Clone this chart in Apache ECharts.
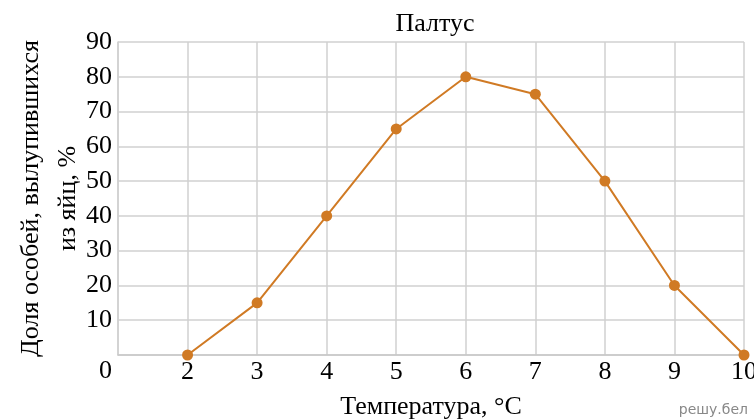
<!DOCTYPE html>
<html><head><meta charset="utf-8">
<script src="https://cdn.jsdelivr.net/npm/echarts@6/dist/echarts.min.js"></script>
<style>html,body{margin:0;padding:0;background:#fff}#c{width:754px;height:419px}</style>
</head><body><div id="c"></div>
<script>
const temps = [2, 3, 4, 5, 6, 7, 8, 9, 10];
const hatched = [0, 15, 40, 65, 80, 75, 50, 20, 0];
const title = 'Палтус';
const xName = 'Температура, °C';
const yName = 'Доля особей, вылупившихся\nиз яйц, %';
const FONT = '"Liberation Serif", "Times New Roman", serif';
const FS = 26;
const chart = echarts.init(document.getElementById('c'));
chart.setOption({
  animation: false,
  title: {text: title, left: 430, top: 6, textAlign: 'center',
    textStyle: {fontFamily: FONT, fontSize: 26, fontWeight: 'normal', color: '#000'}},
  grid: {left: 118, right: 10, top: 42, bottom: 64, containLabel: false, outerBoundsMode: 'none'},
  xAxis: {type: 'value', min: 1, max: 10, interval: 1,
    name: xName, nameLocation: 'middle', nameGap: 39, nameMoveOverlap: false,
    nameTextStyle: {fontFamily: FONT, fontSize: 26, color: '#000'},
    axisLine: {show: true, lineStyle: {color: '#c8c8c8', width: 1.5}},
    axisTick: {show: false},
    axisLabel: {fontFamily: FONT, fontSize: FS, color: '#000', margin: 4,
      formatter: v => v === 1 ? '' : String(v)},
    splitLine: {show: true, lineStyle: {color: '#d0d0d0', width: 1.5}}},
  yAxis: {type: 'value', min: 0, max: 90, interval: 10,
    name: yName, nameLocation: 'middle', nameRotate: 90, nameGap: 31, nameMoveOverlap: false,
    nameTextStyle: {fontFamily: FONT, fontSize: 26, color: '#000', lineHeight: 37, align: 'center'},
    axisLine: {show: true, lineStyle: {color: '#d0d0d0', width: 1.5}},
    axisTick: {show: false},
    axisLabel: {fontFamily: FONT, fontSize: FS, color: '#000', margin: 6,
      formatter: v => v === 0 ? '' : String(v)},
    splitLine: {show: true, lineStyle: {color: '#d0d0d0', width: 1.5}}},
  series: [{type: 'line', data: temps.map((t, i) => [t, hatched[i]]),
    symbol: 'circle', symbolSize: 11,
    lineStyle: {color: '#d07a24', width: 2},
    itemStyle: {color: '#d07a24'}}]
});
const p0 = chart.convertToPixel({gridIndex: 0}, [1, 0]);
chart.setOption({graphic: [
  {type: 'text', left: p0[0] - 19, top: p0[1] + 3,
    style: {text: '0', font: FS + 'px ' + FONT, fill: '#000'}},
  {type: 'text', right: 6, bottom: 2,
    style: {text: 'решу.бел', font: '14px "DejaVu Sans", sans-serif', fill: '#888'}}
]});
</script></body></html>
